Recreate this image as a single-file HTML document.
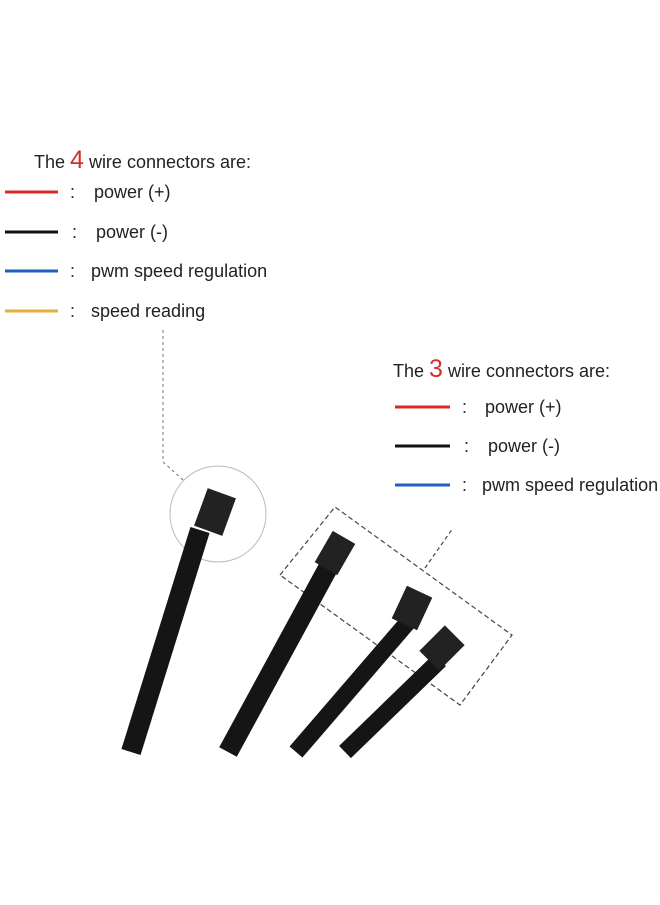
<!DOCTYPE html>
<html><head><style>
html,body{margin:0;padding:0;background:#fff;}
svg text{font-family:"Liberation Sans",sans-serif;fill:#222;}
</style></head><body>
<svg width="660" height="900" viewBox="0 0 660 900" xmlns="http://www.w3.org/2000/svg">
<rect width="660" height="900" fill="#fff"/>
<g font-size="18">
<text x="34" y="168">The <tspan fill="#d0312d" font-size="25">4</tspan> wire connectors are:</text>
<line x1="5" y1="192" x2="58" y2="192" stroke="#d62828" stroke-width="3"/>
<text x="70" y="198">:</text><text x="94" y="198">power (+)</text>
<line x1="5" y1="232" x2="58" y2="232" stroke="#111" stroke-width="3"/>
<text x="72" y="238">:</text><text x="96" y="238">power (-)</text>
<line x1="5" y1="271" x2="58" y2="271" stroke="#1f5fc0" stroke-width="3"/>
<text x="70" y="277">:</text><text x="91" y="277">pwm speed regulation</text>
<line x1="5" y1="311" x2="58" y2="311" stroke="#e8ad3a" stroke-width="3"/>
<text x="70" y="317">:</text><text x="91" y="317">speed reading</text>

<text x="393" y="377">The <tspan fill="#d0312d" font-size="25">3</tspan> wire connectors are:</text>
<line x1="395" y1="407" x2="450" y2="407" stroke="#d62828" stroke-width="3"/>
<text x="462" y="413">:</text><text x="485" y="413">power (+)</text>
<line x1="395" y1="446" x2="450" y2="446" stroke="#111" stroke-width="3"/>
<text x="464" y="452">:</text><text x="488" y="452">power (-)</text>
<line x1="395" y1="485" x2="450" y2="485" stroke="#1f5fc0" stroke-width="3"/>
<text x="462" y="491">:</text><text x="482" y="491">pwm speed regulation</text>
</g>
<polyline points="163,330 163,462 183,480" fill="none" stroke="#777" stroke-width="1" stroke-dasharray="3,3"/>
<circle cx="218" cy="514" r="48" fill="none" stroke="#bbb" stroke-width="1"/>
<polygon points="280,575 335,507 512,635 460,705" fill="none" stroke="#444" stroke-width="1.2" stroke-dasharray="5,3"/>
<line x1="425" y1="568" x2="453" y2="528" stroke="#444" stroke-width="1.2" stroke-dasharray="4,3"/>
<g stroke="#151515" stroke-linecap="butt">
<line x1="200" y1="530" x2="131" y2="752" stroke-width="20"/>
<line x1="328" y1="568" x2="228" y2="752" stroke-width="20"/>
<line x1="408" y1="622" x2="296" y2="752" stroke-width="17"/>
<line x1="440" y1="660" x2="345" y2="752" stroke-width="17"/>
</g>
<g fill="#222">
<rect x="200" y="492" width="30" height="40" transform="rotate(20 215 512)"/>
<rect x="322" y="535" width="26" height="36" transform="rotate(30 335 553)"/>
<rect x="398" y="590" width="28" height="36" transform="rotate(25 412 608)"/>
<rect x="428" y="630" width="28" height="36" transform="rotate(45 442 648)"/>
</g>
</svg>
</body></html>
